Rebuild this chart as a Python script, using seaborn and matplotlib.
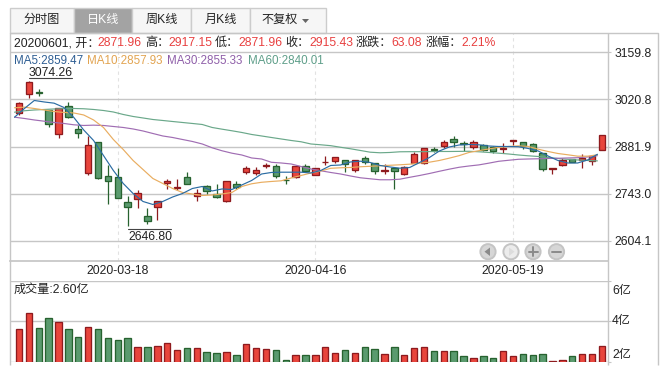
import numpy as np
import pandas as pd
import matplotlib
matplotlib.use("Agg")
import matplotlib.pyplot as plt
from matplotlib.patches import Rectangle, Circle, Polygon
import seaborn as sns

# K线数据
open_ = [2980.5, 3037.6, 3041.5, 2988.4, 2919.8, 3002.3, 2934.6, 2803.8, 2896.3, 2795.0,
         2793.2, 2719.6, 2728.4, 2678.3, 2704.8, 2775.5, 2759.6, 2793.2, 2737.2, 2765.5,
         2743.1, 2722.5, 2772.6, 2806.7, 2803.8, 2825.6, 2825.6, 2784.4, 2792.0, 2824.4,
         2799.1, 2835.3, 2840.3, 2843.3, 2813.8, 2849.2, 2833.3, 2810.9, 2819.7, 2800.9,
         2833.3, 2833.3, 2875.7, 2883.3, 2903.1, 2893.3, 2881.6, 2887.4, 2881.6, 2874.5,
         2898.0, 2896.3, 2890.4, 2862.7, 2816.8, 2828.5, 2846.2, 2842.1, 2838.3, 2871.96]
close_ = [3011.1, 3071.8, 3038.5, 2947.2, 2996.4, 2968.7, 2922.8, 2887.4, 2789.1, 2780.2,
          2730.2, 2703.7, 2746.1, 2663.6, 2722.5, 2781.4, 2763.7, 2772.6, 2746.1, 2752.0,
          2733.1, 2780.2, 2762.6, 2819.7, 2813.8, 2827.4, 2796.1, 2783.2, 2825.6, 2809.7,
          2819.7, 2837.4, 2850.9, 2829.4, 2843.3, 2837.4, 2810.9, 2813.8, 2810.9, 2820.6,
          2860.9, 2878.6, 2871.5, 2896.3, 2895.1, 2888.3, 2896.3, 2872.7, 2869.8, 2876.5,
          2900.1, 2882.4, 2868.6, 2816.8, 2818.5, 2843.3, 2836.2, 2847.1, 2853.9, 2915.43]
high_ = [3012.0, 3074.26, 3051.8, 2988.4, 2996.4, 3012.0, 2944.3, 2911.9, 2896.3, 2826.5,
         2817.6, 2737.2, 2752.9, 2701.9, 2722.5, 2787.3, 2787.3, 2805.9, 2757.9, 2769.6,
         2772.6, 2780.2, 2781.4, 2823.5, 2822.6, 2833.3, 2831.5, 2794.1, 2825.6, 2829.4,
         2819.7, 2855.0, 2850.9, 2843.3, 2843.3, 2853.0, 2833.3, 2831.5, 2819.7, 2824.4,
         2864.8, 2878.6, 2881.6, 2902.2, 2914.0, 2898.0, 2900.1, 2888.3, 2882.5, 2891.3,
         2900.1, 2896.3, 2891.3, 2862.7, 2818.5, 2849.2, 2847.0, 2860.9, 2858.0, 2917.15]
low_ = [2973.7, 3023.8, 3029.7, 2939.9, 2906.0, 2966.4, 2906.0, 2799.1, 2785.3, 2713.7,
        2729.3, 2646.8, 2701.9, 2653.6, 2665.4, 2757.9, 2752.9, 2772.6, 2721.0, 2743.1,
        2730.2, 2718.4, 2755.8, 2800.9, 2799.1, 2818.5, 2790.3, 2772.6, 2788.2, 2809.7,
        2797.0, 2827.4, 2833.3, 2806.7, 2806.7, 2831.5, 2800.9, 2802.0, 2757.9, 2799.1,
        2833.3, 2831.5, 2865.6, 2878.6, 2881.6, 2868.6, 2875.7, 2869.8, 2863.9, 2861.8,
        2885.4, 2874.5, 2864.8, 2808.8, 2800.9, 2823.5, 2835.3, 2818.5, 2828.5, 2871.96]

# 均线
ma5 = [2968.7, 2994.3, 3017.9, 3013.5, 3010.0, 2997.3, 2967.8, 2931.0, 2900.1, 2855.9,
       2811.8, 2773.5, 2744.0, 2720.5, 2711.6, 2720.5, 2733.7, 2744.0, 2758.7, 2764.6,
       2751.4, 2757.3, 2755.8, 2769.0, 2782.3, 2801.4, 2805.9, 2806.7, 2806.7, 2806.7,
       2804.4, 2811.8, 2826.5, 2827.9, 2836.8, 2839.1, 2835.3, 2826.5, 2822.1, 2818.5,
       2820.6, 2835.3, 2850.0, 2869.2, 2880.9, 2886.8, 2888.3, 2887.4, 2883.9, 2882.4,
       2882.4, 2881.8, 2876.5, 2869.2, 2854.4, 2841.2, 2833.8, 2833.8, 2842.7, 2859.47]
ma10 = [2996.4, 2998.2, 2994.3, 2989.9, 2985.5, 2982.6, 2981.1, 2975.2, 2960.5, 2938.4,
        2903.0, 2873.6, 2841.2, 2814.7, 2788.2, 2773.5, 2758.7, 2747.0, 2742.5, 2738.1,
        2739.6, 2742.5, 2747.0, 2764.6, 2772.6, 2777.0, 2779.4, 2781.4, 2789.7, 2797.0,
        2804.4, 2810.3, 2818.2, 2819.7, 2820.6, 2822.7, 2824.1, 2825.6, 2827.1, 2828.5,
        2830.3, 2833.3, 2836.2, 2841.2, 2848.0, 2855.4, 2864.8, 2870.1, 2875.1, 2879.8,
        2882.4, 2884.2, 2882.7, 2874.5, 2867.7, 2861.8, 2858.0, 2853.9, 2853.9, 2857.93]
ma30 = [2968.7, 2964.9, 2960.5, 2956.9, 2953.1, 2950.2, 2946.3, 2944.3, 2945.2, 2944.3,
        2941.3, 2938.4, 2934.0, 2928.1, 2920.7, 2913.4, 2908.9, 2903.0, 2897.2, 2889.8,
        2878.6, 2869.8, 2862.7, 2857.4, 2848.6, 2845.6, 2835.9, 2833.8, 2830.9, 2823.5,
        2816.2, 2810.9, 2805.9, 2801.4, 2795.6, 2790.3, 2787.3, 2784.4, 2784.4, 2786.1,
        2791.7, 2797.0, 2802.9, 2809.4, 2815.6, 2821.2, 2825.0, 2828.2, 2833.3, 2838.8,
        2841.8, 2844.7, 2845.6, 2846.2, 2847.1, 2847.7, 2848.6, 2849.4, 2851.5, 2855.33]
ma60 = [2983.4, 2987.6, 2989.9, 2991.4, 2992.9, 2993.8, 2994.3, 2993.5, 2991.4, 2988.4,
        2984.0, 2976.7, 2970.8, 2966.4, 2961.9, 2959.0, 2956.0, 2953.1, 2950.2, 2947.2,
        2938.4, 2933.4, 2928.7, 2923.7, 2917.8, 2913.4, 2908.9, 2904.5, 2900.1, 2896.3,
        2889.8, 2887.4, 2884.8, 2880.1, 2875.7, 2870.7, 2865.6, 2863.9, 2864.8, 2866.8,
        2867.1, 2867.1, 2867.4, 2867.7, 2867.7, 2868.0, 2868.3, 2866.8, 2864.8, 2862.7,
        2860.3, 2857.4, 2855.0, 2853.0, 2850.0, 2847.1, 2844.7, 2842.7, 2841.2, 2840.01]

# 成交量 (亿)
volume = [3.62, 4.39, 3.67, 4.15, 3.96, 3.62, 3.23, 3.72, 3.62, 3.18,
          3.08, 3.18, 2.74, 2.70, 2.79, 2.94, 2.55, 2.65, 2.65, 2.45,
          2.40, 2.45, 2.31, 2.89, 2.65, 2.60, 2.55, 2.06, 2.31, 2.31,
          2.31, 2.70, 2.40, 2.55, 2.40, 2.70, 2.60, 2.36, 2.74, 2.31,
          2.65, 2.70, 2.50, 2.50, 2.50, 2.26, 2.16, 2.26, 2.16, 2.50,
          2.26, 2.36, 2.31, 2.36, 2.02, 2.06, 2.26, 2.36, 2.36, 2.79]

price_ticks = [3159.8, 3020.8, 2881.9, 2743.0, 2604.1]
vol_ticks = [2, 4, 6]
vol_labels = ["2亿", "4亿", "6亿"]
date_ticks = [10, 30, 50]
date_labels = ["2020-03-18", "2020-04-16", "2020-05-19"]
tabs = ["分时图", "日K线", "周K线", "月K线", "不复权"]

RED, RED_EDGE = "#e8453c", "#8e1a1e"
GREEN, GREEN_EDGE = "#5a9a6e", "#27622f"
GRID = "#c6c6c6"
TXT = "#222222"
TXT_RED = "#e84040"

W, H = 667, 373
sns.set_theme(style="white")
plt.rcParams["font.family"] = ["Liberation Sans", "Noto Sans CJK SC", "DejaVu Sans"]
plt.rcParams["font.size"] = 8.7

df = pd.DataFrame({"idx": np.arange(len(open_)), "open": open_, "close": close_,
                   "high": high_, "low": low_, "volume": volume})
df["dir"] = np.where(df["close"] >= df["open"], "up", "down")


def box(left, top, right, bottom):
    return [left / W, 1 - bottom / H, (right - left) / W, (bottom - top) / H]


fig = plt.figure(figsize=(W / 100, H / 100), dpi=100, facecolor="white")

# 主图
ax = fig.add_axes(box(10, 33, 607.5, 261), facecolor="none")
for name, values, color in [("ma60", ma60, "#6aa88a"), ("ma30", ma30, "#a06db3"),
                            ("ma10", ma10, "#e9ad60"), ("ma5", ma5, "#2b6ca3")]:
    sns.lineplot(x=df["idx"] - 0.45, y=values, color=color, lw=0.85, ax=ax, zorder=4)
for d, fill, edge in [("up", RED, RED_EDGE), ("down", GREEN, GREEN_EDGE)]:
    sub = df[df["dir"] == d]
    ax.vlines(sub["idx"], sub["low"], sub["high"], color=edge, lw=0.9, zorder=2)
    ax.bar(sub["idx"], (sub["close"] - sub["open"]).abs(), bottom=sub[["open", "close"]].min(axis=1),
           width=0.65, color=fill, edgecolor=edge, lw=0.95, zorder=3)
ax.set_xlim(-0.91, 59.57)
ax.set_ylim(2545.2, 3216.6)
ax.set_xticks(date_ticks, date_labels)
ax.set_yticks(price_ticks, [f"{t:.1f}" for t in price_ticks])
ax.yaxis.tick_right()
ax.grid(axis="y", color=GRID, lw=1)
ax.grid(axis="x", color="#e2e2e2", lw=0.8, ls=(0, (3, 3)))
ax.set_axisbelow(True)
ax.tick_params(axis="y", length=2.4, width=0.8, color=GRID, pad=2.5, labelsize=8.7, labelcolor=TXT)
ax.tick_params(axis="x", length=14, width=0.8, color="#e6e6e6", pad=-11, labelsize=8.7, labelcolor=TXT)
ax.set_xlabel("")
ax.set_ylabel("")
sns.despine(ax=ax, left=True, right=True, top=True, bottom=False)
ax.spines["bottom"].set_color(GRID)

# 成交量
ax2 = fig.add_axes(box(10, 280.7, 607.5, 361.5), facecolor="none")
sns.barplot(data=df, x="idx", y="volume", hue="dir", hue_order=["up", "down"],
            palette={"up": RED, "down": GREEN}, dodge=False, native_scale=True,
            saturation=1, width=0.65, legend=False, ax=ax2, zorder=3)
for cont, edge in zip(ax2.containers, [RED_EDGE, GREEN_EDGE]):
    plt.setp(cont, edgecolor=edge, linewidth=0.95)
ax2.set_xlim(-0.91, 59.57)
ax2.set_ylim(2, 6)
ax2.set_yticks(vol_ticks, ["", "", ""])
ax2.set_xticks([])
ax2.yaxis.tick_right()
ax2.grid(axis="y", color=GRID, lw=1)
ax2.set_axisbelow(True)
ax2.tick_params(axis="y", length=2.4, width=0.8, color=GRID)
ax2.set_xlabel("")
ax2.set_ylabel("")
sns.despine(ax=ax2, left=True, right=True, top=True, bottom=True)

# 外框、按钮、文字
top = fig.add_axes([0, 0, 1, 1], facecolor="none", zorder=10)
top.set_xlim(0, W)
top.set_ylim(H, 0)
top.axis("off")
for x in [10, 607.5, 658]:
    top.plot([x, x], [33, 365], color=GRID, lw=1, solid_capstyle="butt")
top.plot([10, 658], [33, 33], color=GRID, lw=1)

tab_x = [9.5, 74, 132, 191, 250, 326]
for i, label in enumerate(tabs):
    active = i == 1
    top.add_patch(Rectangle((tab_x[i], 7.5), tab_x[i + 1] - tab_x[i], 25,
                            fc="#a3a3a3" if active else "#f6f6f6", ec="#cccccc", lw=1))
    cx = (tab_x[i] + tab_x[i + 1]) / 2
    if i == 4:
        cx -= 8
    top.text(cx, 20.3, label, ha="center", va="center", fontsize=8.7,
             color="white" if active else TXT)
top.add_patch(Polygon([[302, 19], [309, 19], [305.5, 23]], fc="#666666", ec="none"))

info = [(14, "20200601, 开：", TXT), (97.7, "2871.96", TXT_RED), (145, "高：", TXT),
        (168.3, "2917.15", TXT_RED), (215, "低：", TXT), (238.3, "2871.96", TXT_RED),
        (285, "收：", TXT), (309, "2915.43", TXT_RED), (355.7, "涨跌：", TXT),
        (391.3, "63.08", TXT_RED), (425.7, "涨幅：", TXT), (461.3, "2.21%", TXT_RED)]
for x, s, c in info:
    top.text(x, 43.2, s, ha="left", va="center", color=c, fontsize=8.7)

ma_text = [(14, "MA5:2859.47", "#2f5f94"), (87.3, "MA10:2857.93", "#e2a451"),
           (167.3, "MA30:2855.33", "#8f5fa9"), (248.3, "MA60:2840.01", "#5f9f8a")]
for x, s, c in ma_text:
    top.text(x, 61.2, s, ha="left", va="center", color=c, fontsize=8.35)

top.text(29, 72.7, f"{max(high_):.2f}", ha="left", va="center", color=TXT, fontsize=8.7)
top.plot([29, 72], [78, 78], color="#444444", lw=0.8)
top.text(128, 236.7, f"{min(low_):.2f}", ha="left", va="center", color=TXT, fontsize=8.7)
top.plot([128, 171], [229, 229], color="#444444", lw=0.8)
top.text(14, 290.3, "成交量:2.60亿", ha="left", va="center", color=TXT, fontsize=8.7)

for y, s in zip([355, 321, 291], vol_labels):
    top.text(612, y, s, ha="left", va="center", color=TXT, fontsize=8.7)

# 缩放控件
for cx, fc in zip([488, 511, 533, 556.5], ["#d6d6d6", "#ececec", "#d6d6d6", "#d6d6d6"]):
    top.add_patch(Circle((cx, 251.7), 7.6, fc=fc, ec="#c4c4c4", lw=1.4))
top.add_patch(Polygon([[490, 247.5], [490, 256], [484.5, 251.7]], fc="#8a8a8a", ec="none"))
top.add_patch(Polygon([[509, 247.5], [509, 256], [514.5, 251.7]], fc="#dcdcdc", ec="none"))
top.plot([528.5, 537.5], [251.7, 251.7], color="#8a8a8a", lw=1.4)
top.plot([533, 533], [247.2, 256.2], color="#8a8a8a", lw=1.4)
top.plot([552, 561], [251.7, 251.7], color="#8a8a8a", lw=1.4)

plt.savefig("out.png", dpi=100)
